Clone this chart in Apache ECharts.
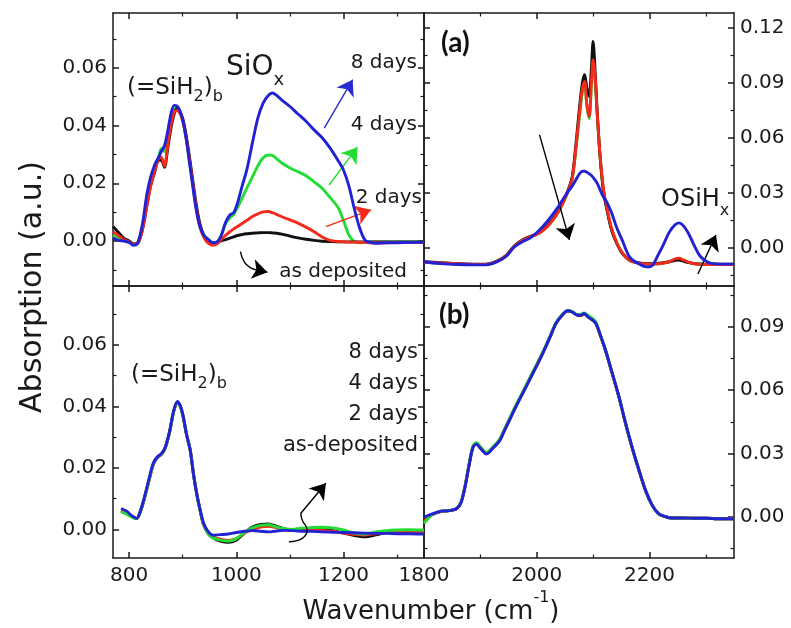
<!DOCTYPE html>
<html><head><meta charset="utf-8">
<script src="https://cdn.jsdelivr.net/npm/echarts@6/dist/echarts.min.js"></script>
<style>html,body{margin:0;padding:0;background:#fff}#c{width:791px;height:628px}</style>
</head><body><div id="c"></div>
<script>
// ---------------- data ----------------
const SERIES_NAMES = ['as deposited', '2 days', '4 days', '8 days'];

// top-left panel (SiH2 bending / SiOx region)
const TL_X = [770,780,790,800,808,816,825,833,840,848,855,860,866,872,878,884,889,894,900,906,912,918,925,932,940,948,957,965,972,980,988,995,1002,1010,1020,1030,1040,1050,1060,1067,1075,1085,1100,1115,1130,1145,1160,1175,1190,1200,1210,1220,1230,1240,1250,1260,1280,1300,1320,1350];
const TL_BLACK = [0.005,0.003,0.001,0.0,-0.001,-0.0008,0.004,0.012,0.019,0.024,0.028,0.028,0.0255,0.032,0.039,0.044,0.046,0.045,0.0425,0.037,0.03,0.022,0.013,0.006,0.0015,-0.0003,-0.001,-0.0005,0.0,0.0005,0.001,0.0014,0.0019,0.0022,0.0025,0.0027,0.0028,0.0029,0.0029,0.0028,0.0027,0.0024,0.0017,0.0011,0.0006,0.0002,-0.0001,-0.0002,-0.0003,-0.0003,-0.0003,-0.0003,-0.0003,-0.0003,-0.0003,-0.0003,-0.0003,-0.0003,-0.0003,-0.0003];
const TL_RED = [0.0032,0.002,0.0005,-0.0003,-0.001,-0.0008,0.004,0.012,0.019,0.0245,0.0285,0.029,0.026,0.033,0.04,0.0445,0.0452,0.0445,0.0415,0.036,0.029,0.021,0.012,0.005,0.001,-0.0008,-0.0015,-0.0008,0.0005,0.002,0.0032,0.0042,0.005,0.006,0.0072,0.0085,0.0094,0.0101,0.0102,0.0098,0.0092,0.0084,0.0073,0.0062,0.0048,0.0032,0.0014,0.0002,-0.0002,-0.0003,-0.0004,-0.0004,-0.0005,-0.0005,-0.0006,-0.0006,-0.0006,-0.0005,-0.0005,-0.0005];
const TL_GREEN = [0.002,0.001,0.0005,0.0,-0.001,-0.0005,0.005,0.014,0.021,0.0255,0.029,0.032,0.031,0.036,0.042,0.0455,0.046,0.045,0.042,0.0365,0.029,0.021,0.012,0.0055,0.002,0.0005,-0.0008,-0.0003,0.002,0.006,0.008,0.0092,0.0115,0.0145,0.0185,0.0222,0.026,0.0288,0.0298,0.0297,0.0285,0.027,0.0253,0.024,0.0226,0.0205,0.0183,0.015,0.0115,0.007,0.002,-0.0002,-0.0006,-0.0005,-0.0004,-0.0003,-0.0003,-0.0003,-0.0003,-0.0003];
const TL_BLUE = [0.001,0.0002,0.0,-0.0005,-0.0015,-0.0008,0.006,0.016,0.022,0.0265,0.029,0.031,0.033,0.038,0.044,0.047,0.0468,0.0455,0.042,0.036,0.028,0.02,0.011,0.005,0.0018,0.0005,-0.0006,-0.0002,0.002,0.0065,0.009,0.0098,0.013,0.0185,0.025,0.034,0.0425,0.0478,0.0505,0.0513,0.0505,0.0488,0.0466,0.044,0.0415,0.0385,0.0358,0.0322,0.0278,0.0245,0.019,0.0112,0.0045,0.0003,-0.0005,-0.0008,-0.0006,-0.0006,-0.0005,-0.0005];

// top-right panel (a) Si-H stretching
const TR_X = [1800,1830,1860,1890,1910,1930,1946,1960,1975,1990,2005,2020,2035,2045,2055,2063,2070,2076,2081,2085,2089,2093,2097,2100,2103,2107,2112,2118,2125,2133,2142,2152,2165,2180,2195,2205,2215,2225,2235,2245,2252,2260,2270,2280,2290,2305,2320,2335,2350];
const TR_BLACK = [-0.0075,-0.008,-0.0085,-0.0088,-0.0088,-0.007,-0.004,0.001,0.0045,0.0065,0.0085,0.0125,0.0185,0.024,0.031,0.039,0.058,0.077,0.09,0.0944,0.087,0.0825,0.098,0.1125,0.1,0.076,0.0516,0.032,0.02,0.0095,0.0025,-0.003,-0.0066,-0.008,-0.0085,-0.0085,-0.0083,-0.008,-0.0075,-0.0068,-0.0065,-0.0072,-0.008,-0.0085,-0.0087,-0.0088,-0.0088,-0.0088,-0.0088];
const TR_RED = [-0.0078,-0.0082,-0.0086,-0.0089,-0.0089,-0.0072,-0.0042,0.0008,0.0042,0.0062,0.0082,0.012,0.018,0.0235,0.0305,0.038,0.056,0.074,0.087,0.0907,0.078,0.0716,0.09,0.1025,0.096,0.075,0.052,0.033,0.021,0.0105,0.003,-0.0028,-0.0068,-0.0082,-0.0087,-0.0088,-0.0086,-0.0082,-0.0075,-0.006,-0.0055,-0.0065,-0.0078,-0.0086,-0.0089,-0.009,-0.009,-0.009,-0.009];
const TR_GREEN = [-0.0078,-0.0082,-0.0086,-0.0089,-0.0089,-0.0072,-0.0042,0.0008,0.0042,0.0062,0.0082,0.012,0.018,0.0235,0.0302,0.0375,0.055,0.072,0.085,0.089,0.077,0.0705,0.088,0.1,0.094,0.074,0.051,0.032,0.0205,0.0102,0.003,-0.0028,-0.0068,-0.0082,-0.0087,-0.0088,-0.0086,-0.0082,-0.0075,-0.0062,-0.0057,-0.0066,-0.0078,-0.0086,-0.0089,-0.009,-0.009,-0.009,-0.009];
const TR_BLUE = [-0.0075,-0.0085,-0.009,-0.0092,-0.0092,-0.0075,-0.0045,0.0005,0.0035,0.0058,0.0098,0.015,0.021,0.0258,0.0305,0.0338,0.0375,0.0405,0.0418,0.0418,0.0413,0.0405,0.0395,0.0385,0.0372,0.0355,0.032,0.028,0.0245,0.019,0.011,0.004,-0.005,-0.0085,-0.0103,-0.0095,-0.004,0.002,0.0085,0.0125,0.0137,0.0122,0.0075,0.001,-0.0045,-0.008,-0.0087,-0.0088,-0.0088];

// bottom-left panel
const BL_X = [785,795,805,814,822,830,838,845,852,861,868,876,883,890,896,901,907,914,920,926,933,939,948,957,970,985,1000,1015,1030,1045,1060,1075,1090,1105,1120,1140,1160,1180,1200,1220,1240,1260,1280,1300,1320,1350];
const BL_BLACK = [0.006,0.0052,0.0042,0.0035,0.0062,0.011,0.0165,0.021,0.0232,0.0245,0.0268,0.032,0.0382,0.0413,0.0398,0.0365,0.031,0.0258,0.0182,0.0118,0.0058,0.0015,-0.0015,-0.0028,-0.0038,-0.0042,-0.0035,-0.0012,0.0008,0.0016,0.0018,0.001,0.0002,-0.0003,-0.0003,-0.0002,-0.0001,-0.0004,-0.0012,-0.002,-0.0024,-0.0018,-0.001,-0.0006,-0.0004,-0.0004];
const BL_RED = [0.0062,0.0054,0.0042,0.0035,0.0063,0.0112,0.0167,0.0212,0.0233,0.0246,0.0268,0.0321,0.0383,0.0414,0.0399,0.0366,0.031,0.0258,0.0181,0.0117,0.0058,0.0016,-0.0013,-0.0025,-0.0032,-0.0036,-0.003,-0.0012,0.0,0.0008,0.001,0.0006,0.0,-0.0003,-0.0004,-0.0002,-0.0003,-0.0006,-0.0012,-0.0016,-0.0018,-0.0014,-0.001,-0.0008,-0.0008,-0.0008];
const BL_GREEN = [0.0058,0.005,0.004,0.0035,0.0063,0.0112,0.0167,0.0212,0.0233,0.0246,0.0268,0.0321,0.0383,0.0412,0.0398,0.0366,0.031,0.0258,0.0181,0.0118,0.0058,0.0016,-0.0015,-0.0028,-0.0035,-0.0038,-0.003,-0.001,0.0005,0.0013,0.0015,0.0008,0.0002,0.0,0.0004,0.0006,0.0007,0.0005,-0.0002,-0.0012,-0.0015,-0.0008,-0.0004,-0.0002,-0.0001,-0.0002];
const BL_BLUE = [0.0068,0.006,0.0045,0.0036,0.0065,0.0115,0.017,0.0215,0.0235,0.0248,0.027,0.0323,0.0385,0.0416,0.04,0.0367,0.031,0.0258,0.018,0.0117,0.006,0.002,-0.0008,-0.0019,-0.0017,-0.0015,-0.001,-0.0006,-0.0004,-0.0006,-0.0008,-0.0005,-0.0003,-0.0004,-0.0006,-0.0006,-0.0008,-0.0009,-0.001,-0.0011,-0.0012,-0.0013,-0.0013,-0.0014,-0.0014,-0.0015];

// bottom-right panel (b)
const BR_X = [1800,1815,1830,1845,1858,1866,1873,1880,1887,1893,1900,1911,1922,1934,1943,1952,1960,1969,1980,1993,2005,2016,2025,2034,2045,2055,2063,2072,2078,2084,2092,2100,2105,2113,2122,2134,2146,2157,2169,2181,2193,2205,2216,2228,2240,2260,2280,2300,2320,2350];
const BR_BLACK = [-0.001,0.0012,0.0026,0.003,0.004,0.0072,0.0148,0.0248,0.0334,0.035,0.033,0.0302,0.0328,0.0364,0.0415,0.0465,0.051,0.0558,0.0615,0.0684,0.0746,0.0808,0.0862,0.0916,0.0955,0.0975,0.097,0.0955,0.0953,0.0962,0.0945,0.093,0.0915,0.0858,0.0788,0.0678,0.0566,0.0448,0.033,0.0224,0.0126,0.0055,0.0016,0.0002,-0.0005,-0.0005,-0.0006,-0.0006,-0.0008,-0.0009];
const BR_RED = [-0.002,0.0012,0.0027,0.003,0.004,0.0071,0.0146,0.0246,0.0332,0.0347,0.0327,0.03,0.0326,0.0362,0.0412,0.0462,0.0507,0.0555,0.0612,0.0681,0.0744,0.0806,0.086,0.0916,0.0955,0.0976,0.097,0.0956,0.0955,0.0963,0.0946,0.093,0.0916,0.0859,0.0789,0.0679,0.0567,0.0449,0.0331,0.0225,0.0126,0.0055,0.0016,0.0002,-0.0005,-0.0005,-0.0006,-0.0006,-0.0008,-0.0009];
const BR_GREEN = [-0.003,0.0013,0.0028,0.0031,0.0041,0.0073,0.015,0.025,0.0336,0.0352,0.0332,0.0305,0.0331,0.0366,0.0416,0.0466,0.0511,0.0559,0.0616,0.0685,0.0748,0.081,0.0864,0.0918,0.0957,0.0977,0.0972,0.0958,0.0958,0.0966,0.0952,0.0938,0.0922,0.0862,0.079,0.068,0.0568,0.045,0.0332,0.0225,0.0126,0.0055,0.0016,0.0002,-0.0005,-0.0005,-0.0006,-0.0006,-0.0008,-0.0009];
const BR_BLUE = [0.0,0.0015,0.0028,0.003,0.004,0.007,0.0145,0.0245,0.033,0.0345,0.0325,0.0298,0.0325,0.036,0.041,0.046,0.0505,0.0553,0.061,0.0679,0.0742,0.0805,0.086,0.0916,0.0955,0.0976,0.097,0.0955,0.0955,0.0963,0.0945,0.093,0.0916,0.086,0.079,0.068,0.0568,0.045,0.0332,0.0225,0.0126,0.0055,0.0016,0.0002,-0.0005,-0.0005,-0.0006,-0.0006,-0.0008,-0.0009];

// axis ranges and ticks
const X_LEFT_RANGE = [770, 1350];
const X_RIGHT_RANGE = [1800, 2350];
const X_LEFT_TICKS = [800, 1000, 1200];
const X_LEFT_MINOR = [900, 1100, 1300];
const X_RIGHT_TICKS = [1800, 2000, 2200];
const X_RIGHT_MINOR = [1900, 2100, 2300];
const Y_TL_RANGE = [-0.0156, 0.079];
const Y_TR_RANGE = [-0.0207, 0.128];
const Y_BL_RANGE = [-0.0093, 0.0792];
const Y_BR_RANGE = [-0.0194, 0.1093];
const Y_LEFT_TICKS = [0, 0.02, 0.04, 0.06];
const Y_TL_MINOR = [-0.01, 0.01, 0.03, 0.05, 0.07];
const Y_BL_MINOR = [0.01, 0.03, 0.05, 0.07];
const Y_TR_TICKS = [0, 0.03, 0.06, 0.09, 0.12];
const Y_BR_TICKS = [0, 0.03, 0.06, 0.09];
const Y_RIGHT_MINOR = [-0.015, 0.015, 0.045, 0.075, 0.105];

// annotation arrow paths (data coordinates of each panel)
const TL_HOOK = [[1007.6, -0.0037], [1015, -0.0073], [1026, -0.0092], [1040, -0.0101]];
const BL_HOOK = [[1098, -0.004], [1123, -0.0029], [1132, -0.0002], [1123, 0.003], [1120, 0.0052]];

// ---------------- chart ----------------
const FONT = 'DejaVu Sans';
const INK = '#1a1a1a';
const COLORS = ['#111111', '#f52a1c', '#22dd33', '#2222d4'];

const grids = [
  {left: 113, top: 13, width: 311, height: 273},
  {left: 424, top: 13, width: 310, height: 273},
  {left: 113, top: 286, width: 311, height: 272},
  {left: 424, top: 286, width: 310, height: 272}
];

const xAxes = [], yAxes = [];
function axis(kind, grid, range, pos, major, minor, labels, fmt) {
  const list = kind === 'x' ? xAxes : yAxes;
  const base = {type: 'value', gridIndex: grid, min: range[0], max: range[1], position: pos, splitLine: {show: false}};
  const idx = list.length;
  list.push(Object.assign({}, base, {
    axisLine: {show: true, onZero: false, lineStyle: {color: INK, width: 1.5}},
    axisTick: {show: true, inside: true, length: 6, customValues: major, lineStyle: {color: INK, width: 1.5}},
    axisLabel: {show: labels, customValues: major, formatter: fmt, margin: kind === 'x' ? 8 : 6,
      fontFamily: FONT, fontSize: 20, color: INK}
  }));
  list.push(Object.assign({}, base, {
    axisLine: {show: false, onZero: false},
    axisTick: {show: true, inside: true, length: 3.5, customValues: minor, lineStyle: {color: INK, width: 1.2}},
    axisLabel: {show: false}
  }));
  return idx;
}
const yfmt = v => v.toFixed(2);
const xfmt = v => String(v);
const panels = [
  {g: 0, xr: X_LEFT_RANGE, xt: X_LEFT_TICKS, xm: X_LEFT_MINOR, yr: Y_TL_RANGE, yt: Y_LEFT_TICKS, ym: Y_TL_MINOR, xl: false, side: 'left'},
  {g: 1, xr: X_RIGHT_RANGE, xt: X_RIGHT_TICKS, xm: X_RIGHT_MINOR, yr: Y_TR_RANGE, yt: Y_TR_TICKS, ym: Y_RIGHT_MINOR, xl: false, side: 'right'},
  {g: 2, xr: X_LEFT_RANGE, xt: X_LEFT_TICKS, xm: X_LEFT_MINOR, yr: Y_BL_RANGE, yt: Y_LEFT_TICKS, ym: Y_BL_MINOR, xl: true, side: 'left'},
  {g: 3, xr: X_RIGHT_RANGE, xt: X_RIGHT_TICKS, xm: X_RIGHT_MINOR, yr: Y_BR_RANGE, yt: Y_BR_TICKS, ym: Y_RIGHT_MINOR, xl: true, side: 'right'}
];
panels.forEach(p => {
  p.xi = axis('x', p.g, p.xr, 'bottom', p.xt, p.xm, p.xl, xfmt);
  axis('x', p.g, p.xr, 'top', p.xt, p.xm, false, xfmt);
  const other = p.side === 'left' ? 'right' : 'left';
  p.yi = axis('y', p.g, p.yr, p.side, p.yt, p.ym, true, yfmt);
  axis('y', p.g, p.yr, other, p.yt, p.ym, false, yfmt);
});

const panelData = [
  [TL_X, [TL_BLACK, TL_RED, TL_GREEN, TL_BLUE]],
  [TR_X, [TR_BLACK, TR_RED, TR_GREEN, TR_BLUE]],
  [BL_X, [BL_BLACK, BL_RED, BL_GREEN, BL_BLUE]],
  [BR_X, [BR_BLACK, BR_RED, BR_GREEN, BR_BLUE]]
];
// drawing order per panel
const ORDER = [[2, 0, 1, 3], [2, 0, 1, 3], [0, 1, 2, 3], [0, 1, 2, 3]];

function arrow(x1, y1, x2, y2, color) {
  const ls = {color: color, width: 1.4, type: 'solid'};
  return [
    {coord: [x1, y1], symbol: 'none', lineStyle: ls},
    {coord: [x2, y2], symbol: 'arrow', symbolSize: 15, lineStyle: ls, itemStyle: {color: color}}
  ];
}
const ANNOT = [
  [arrow(1164, 0.0391, 1217, 0.0559, '#2a2ad0'), arrow(1173, 0.0194, 1226, 0.0325, '#22dd33'),
   arrow(1167, 0.005, 1251, 0.0108, '#f52a1c'), arrow(1040, -0.0101, 1058, -0.0108, '#000')],
  [arrow(2005, 0.0616, 2058, 0.0044, '#000'), arrow(2286, -0.0142, 2318, 0.0071, '#000')],
  [arrow(1120, 0.0052, 1167, 0.015, '#000')],
  []
];

const series = [];
panelData.forEach((pd, pi) => {
  const p = panels[pi];
  ORDER[pi].forEach((si, k) => {
    const xs = pd[0], ys = pd[1][si];
    const s = {
      type: 'line', name: SERIES_NAMES[si], xAxisIndex: p.xi, yAxisIndex: p.yi,
      data: xs.map((x, i) => [x, ys[i]]), showSymbol: false, symbol: 'none',
      smooth: 0.3, lineStyle: {color: COLORS[si], width: 2.9}, z: 2 + k, silent: true
    };
    if (k === 3 && ANNOT[pi].length) {
      s.markLine = {silent: true, animation: false, label: {show: false}, symbol: ['none', 'arrow'],
        lineStyle: {type: 'solid'}, data: ANNOT[pi]};
    }
    series.push(s);
  });
});
// curved stems of the hook arrows
[[0, TL_HOOK], [2, BL_HOOK]].forEach(([pi, pts]) => {
  series.push({type: 'line', name: 'arrow', xAxisIndex: panels[pi].xi, yAxisIndex: panels[pi].yi,
    data: pts, showSymbol: false, symbol: 'none', smooth: 0.5, silent: true, z: 10,
    lineStyle: {color: '#000', width: 1.4}});
});

function txt(x, y, text, size, align, extra) {
  return Object.assign({type: 'text', x: x, y: y, z: 100,
    style: {text: text, fontFamily: FONT, fontSize: size, fill: INK, align: align || 'left', verticalAlign: 'middle'}}, extra || {});
}
function richTxt(x, y, text, main, sub, mainLH, subLH, subAlign, align) {
  return {type: 'text', x: x, y: y, z: 100, style: {
    text: text, align: align || 'left', verticalAlign: 'middle', fill: INK,
    rich: {
      a: {fontFamily: FONT, fontSize: main, lineHeight: mainLH, fill: INK},
      s: {fontFamily: FONT, fontSize: sub, lineHeight: subLH, verticalAlign: subAlign, fill: INK}
    }}};
}

const graphic = [
  txt(33, 287, 'Absorption (a.u.)', 30, 'center', {rotation: Math.PI / 2}),
  richTxt(431, 612, '{a|Wavenumber (cm}{s|-1}{a|)}', 26, 16, 44, 14, 'top', 'center'),
  richTxt(127, 88, '{a|(=SiH}{s|2}{a|)}{s|b}', 23, 16, 34, 12, 'bottom'),
  richTxt(226, 68, '{a|SiO}{s|x}', 28, 18, 42, 12, 'bottom'),
  txt(417, 63, '8 days', 20, 'right'),
  txt(417, 125, '4 days', 20, 'right'),
  txt(422, 198, '2 days', 20, 'right'),
  txt(407, 272, 'as deposited', 20, 'right'),
  {type: 'text', x: 441, y: 43, z: 100, style: {text: '(a)', fontFamily: 'Lato', fontWeight: 'bold', fontSize: 28, fill: '#111', verticalAlign: 'middle'}},
  {type: 'text', x: 439, y: 315, z: 100, style: {text: '(b)', fontFamily: 'Lato', fontWeight: 'bold', fontSize: 28, fill: '#111', verticalAlign: 'middle'}},
  richTxt(661, 200, '{a|OSiH}{s|x}', 24, 16, 38, 10, 'bottom'),
  richTxt(131, 375, '{a|(=SiH}{s|2}{a|)}{s|b}', 23, 16, 34, 12, 'bottom'),
  txt(418, 353, '8 days', 21, 'right'),
  txt(418, 384, '4 days', 21, 'right'),
  txt(418, 415, '2 days', 21, 'right'),
  txt(418, 446, 'as-deposited', 21, 'right')
];

const chart = echarts.init(document.getElementById('c'), null, {renderer: 'canvas'});
chart.setOption({
  animation: false,
  backgroundColor: '#fff',
  grid: grids.map(g => Object.assign({containLabel: false}, g)),
  xAxis: xAxes,
  yAxis: yAxes,
  series: series,
  graphic: graphic
});
</script></body></html>
